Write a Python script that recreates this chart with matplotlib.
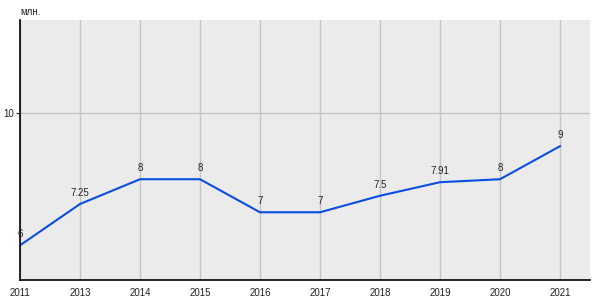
import matplotlib
matplotlib.use("Agg")
import matplotlib.pyplot as plt

plt.rcParams["font.family"] = ["Liberation Sans", "DejaVu Sans"]

# данные
years = ["2011", "2013", "2014", "2015", "2016", "2017", "2018", "2019", "2020", "2021"]
values = [6, 7.25, 8, 8, 7, 7, 7.5, 7.91, 8, 9]
labels = ["6", "7.25", "8", "8", "7", "7", "7.5", "7.91", "8", "9"]

fig = plt.figure(figsize=(6, 3), dpi=100)
ax = fig.add_axes([20 / 600, 20 / 300, 570 / 600, 260 / 300])
ax.set_facecolor("#ebebeb")

x = list(range(len(years)))
ax.plot(x, values, color="#0a4de0", linewidth=1.5)
for xi, v, t in zip(x, values, labels):
    ax.annotate(t, (xi, v), xytext=(0, 4.5), textcoords="offset points",
                ha="center", va="bottom", fontsize=7, color="#222222")

ax.set_xlim(0, 9.5)
ax.set_ylim(4.95, 12.82)
ax.set_xticks(x)
ax.set_xticklabels(years)
ax.set_yticks([10])
ax.tick_params(axis="x", length=0, labelsize=7, colors="#222222", pad=6)
ax.tick_params(axis="y", length=3, labelsize=7, colors="#222222", pad=1)
ax.grid(True, color="#c4c4c4", linewidth=1)
ax.set_axisbelow(True)
for s in ["top", "right"]:
    ax.spines[s].set_visible(False)
ax.spines["left"].set_linewidth(1.2)
ax.spines["bottom"].set_linewidth(1.2)

fig.text(20 / 600, 1 - 12 / 300, "млн.", fontsize=7, color="#222222", va="center")

plt.savefig("out.png", dpi=100)
